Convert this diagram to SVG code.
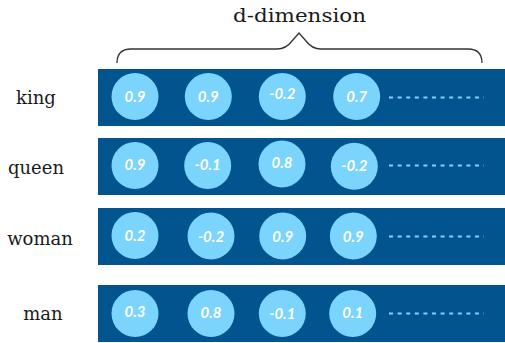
<svg xmlns="http://www.w3.org/2000/svg" width="505" height="343" viewBox="0 0 505 343">
<style>
.bar{fill:#02548f}
.dot{fill:#7ad4fc}
.val{font-family:Lato,"Open Sans","Liberation Sans",sans-serif;font-style:italic;font-weight:bold;font-size:15px;fill:#ffffff;text-anchor:middle}
.lbl{font-family:"DejaVu Serif","Liberation Serif",serif;font-size:18px;fill:#1a1a1a;text-anchor:middle}
.dash{stroke:#7ad4fc;stroke-width:2;stroke-dasharray:4 4.6;fill:none}
.brace{fill:none;stroke:#333333;stroke-width:1.3}
</style>
<rect width="505" height="343" fill="#ffffff"/>
<text x="299.5" y="22" class="lbl" style="font-size:19px" textLength="133" lengthAdjust="spacingAndGlyphs">d-dimension</text>
<path class="brace" d="M117 63 Q117 49 131 49 L277 49 Q286 49 292 41 L299 33 L306 41 Q312 49 321 49 L468 49 Q482 49 482 63"/>
<g id="king">
<text x="36" y="104" class="lbl">king</text>
<rect x="98" y="69" width="407" height="57" class="bar"/>
<circle cx="135" cy="96.5" r="23.5" class="dot"/><text x="135" y="101.5" class="val">0.9</text>
<circle cx="208.3" cy="96.5" r="23.5" class="dot"/><text x="208.3" y="101.5" class="val">0.9</text>
<circle cx="282.3" cy="96.5" r="23.5" class="dot"/><text x="282.3" y="99" class="val">-0.2</text>
<circle cx="356.7" cy="96.5" r="23.5" class="dot"/><text x="356.7" y="102" class="val">0.7</text>
<line x1="389" y1="97.5" x2="484" y2="97.5" class="dash"/>
</g>
<g id="queen">
<text x="36" y="174" class="lbl">queen</text>
<rect x="98" y="138" width="407" height="57" class="bar"/>
<circle cx="135" cy="165.5" r="23.5" class="dot"/><text x="135" y="170" class="val">0.9</text>
<circle cx="207.7" cy="165.5" r="23.5" class="dot"/><text x="207.7" y="170" class="val">-0.1</text>
<circle cx="282" cy="164" r="23.5" class="dot"/><text x="282" y="168.3" class="val">0.8</text>
<circle cx="354.3" cy="166.3" r="23.5" class="dot"/><text x="354.3" y="171" class="val">-0.2</text>
<line x1="389" y1="165.5" x2="484" y2="165.5" class="dash"/>
</g>
<g id="woman">
<text x="40" y="245" class="lbl">woman</text>
<rect x="98" y="208" width="407" height="57" class="bar"/>
<circle cx="135" cy="235.5" r="23.5" class="dot"/><text x="135" y="241" class="val">0.2</text>
<circle cx="211" cy="236" r="23.5" class="dot"/><text x="211" y="241.5" class="val">-0.2</text>
<circle cx="282.7" cy="236" r="23.5" class="dot"/><text x="282.7" y="241.5" class="val">0.9</text>
<circle cx="353.3" cy="236" r="23.5" class="dot"/><text x="353.3" y="241.5" class="val">0.9</text>
<line x1="389" y1="236.5" x2="484" y2="236.5" class="dash"/>
</g>
<g id="man">
<text x="43" y="320" class="lbl">man</text>
<rect x="98" y="285" width="407" height="57" class="bar"/>
<circle cx="135" cy="313.5" r="23.5" class="dot"/><text x="135" y="317" class="val">0.3</text>
<circle cx="211" cy="313.5" r="23.5" class="dot"/><text x="211" y="318" class="val">0.8</text>
<circle cx="282.3" cy="313.5" r="23.5" class="dot"/><text x="282.3" y="319" class="val">-0.1</text>
<circle cx="352.7" cy="313.5" r="23.5" class="dot"/><text x="352.7" y="317.5" class="val">0.1</text>
<line x1="389" y1="313.5" x2="484" y2="313.5" class="dash"/>
</g>
</svg>
